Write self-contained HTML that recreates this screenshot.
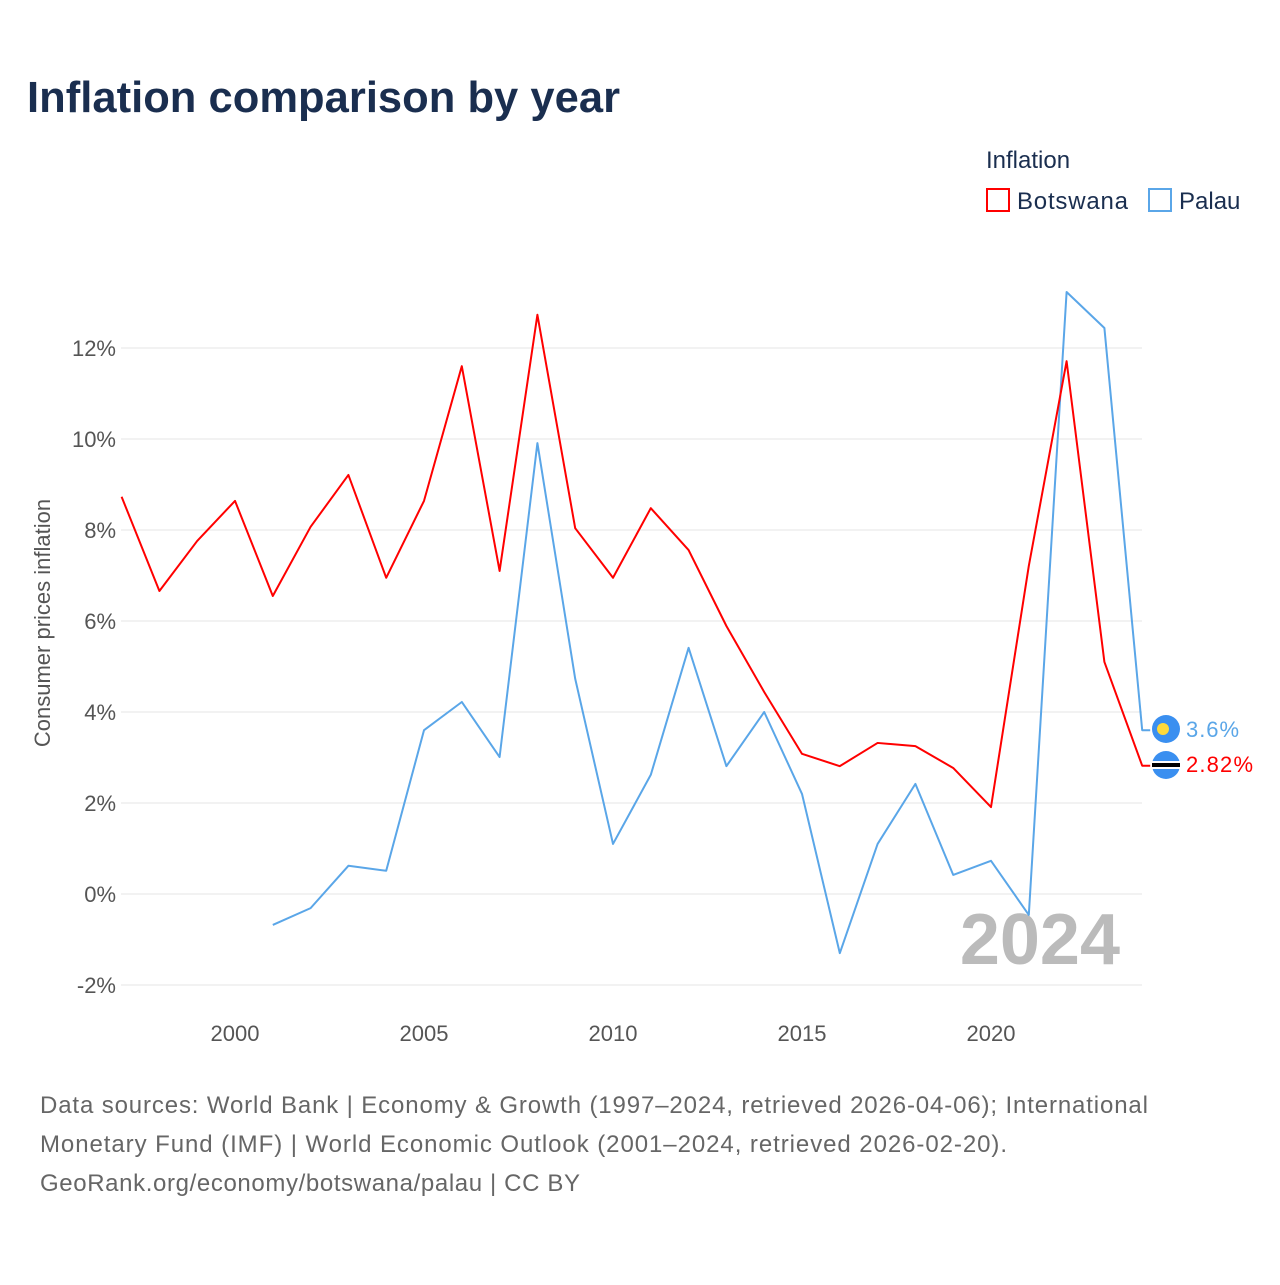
<!DOCTYPE html>
<html><head><meta charset="utf-8"><style>
body{margin:0;background:#fff;font-family:"Liberation Sans",sans-serif;}
</style></head><body>
<svg width="1280" height="1280" xmlns="http://www.w3.org/2000/svg" style="font-family:'Liberation Sans',sans-serif">
<text x="27" y="112" font-size="43.5" font-weight="bold" fill="#1a2e4f" textLength="593">Inflation comparison by year</text>
<text x="986" y="168" font-size="24" fill="#1a2e4f">Inflation</text>
<g><rect x="987" y="189" width="22" height="22" fill="none" stroke="#f00" stroke-width="2"/><text x="1017" y="209" font-size="24" fill="#1a2e4f" textLength="111">Botswana</text></g>
<g><rect x="1149" y="189" width="22" height="22" fill="none" stroke="#5aa6e8" stroke-width="2"/><text x="1179" y="209" font-size="24" fill="#1a2e4f">Palau</text></g>
<g id="grid"></g><g id="yt"></g><g id="xt"></g>
<text transform="translate(50,623) rotate(-90)" text-anchor="middle" font-size="22" fill="#555">Consumer prices inflation</text>
<text x="1120" y="964" text-anchor="end" font-size="72" font-weight="bold" fill="#bbb">2024</text>
<g id="lines"></g>
<g><circle cx="1166" cy="729" r="14" fill="#3a8ff0"/><circle cx="1163" cy="729" r="6" fill="#ffd93a"/></g>
<g><circle cx="1166" cy="765" r="14" fill="#3a8ff0"/><rect x="1152" y="761" width="28" height="8" fill="#fff"/><rect x="1152" y="763" width="28" height="4" fill="#000"/></g>
<text x="1186" y="737" font-size="22" fill="#5aa6e8" textLength="53">3.6%</text>
<text x="1186" y="772" font-size="22" fill="#f00" textLength="67">2.82%</text>
<text font-size="24" fill="#666"><tspan x="40" y="1113" textLength="1108">Data sources: World Bank | Economy &amp; Growth (1997–2024, retrieved 2026-04-06); International</tspan><tspan x="40" y="1152" textLength="967">Monetary Fund (IMF) | World Economic Outlook (2001–2024, retrieved 2026-02-20).</tspan><tspan x="40" y="1191" textLength="540">GeoRank.org/economy/botswana/palau | CC BY</tspan></text>
</svg>
<script>
const botYears=[1997,1998,1999,2000,2001,2002,2003,2004,2005,2006,2007,2008,2009,2010,2011,2012,2013,2014,2015,2016,2017,2018,2019,2020,2021,2022,2023,2024];
const botValues=[8.73,6.66,7.76,8.64,6.55,8.07,9.21,6.95,8.64,11.6,7.1,12.73,8.04,6.95,8.48,7.56,5.89,4.44,3.08,2.81,3.32,3.25,2.77,1.91,7.21,11.71,5.1,2.82];
const palYears=[2001,2002,2003,2004,2005,2006,2007,2008,2009,2010,2011,2012,2013,2014,2015,2016,2017,2018,2019,2020,2021,2022,2023,2024];
const palValues=[-0.68,-0.31,0.62,0.51,3.6,4.22,3.01,9.91,4.73,1.1,2.62,5.41,2.81,4.0,2.2,-1.3,1.1,2.42,0.42,0.73,-0.46,13.23,12.44,3.6];
const yTicks=[-2,0,2,4,6,8,10,12];
const xTicks=[2000,2005,2010,2015,2020];
const NS="http://www.w3.org/2000/svg";
const X=y=>121.6+(y-1997)*37.8;
const Y=v=>894-v*45.5;
function mk(t,a,p){const e=document.createElementNS(NS,t);for(const k in a)e.setAttribute(k,a[k]);document.getElementById(p).appendChild(e);return e;}
yTicks.forEach(v=>{
  const l=mk('line',{x1:121,x2:1142,y1:Y(v),y2:Y(v),stroke:'#e6e6e6','stroke-width':1},'grid');
  
  
  const t=mk('text',{x:116,y:Y(v)+8,'text-anchor':'end','font-size':22,fill:'#555'},'yt');
  t.textContent=v+'%';
  
  
});
xTicks.forEach(v=>{
  const t=mk('text',{x:X(v),y:1041,'text-anchor':'middle','font-size':22,fill:'#555'},'xt');
  t.textContent=v;
  
  
});
function line(ys,vs,c,name){
  let d=ys.map((y,i)=>(i?'L':'M')+X(y)+','+Y(vs[i])).join(' ');
  d+=' L'+(X(ys[ys.length-1])+8)+','+Y(vs[vs.length-1]);
  const p=mk('path',{d:d,fill:'none',stroke:c,'stroke-width':2,'stroke-linejoin':'round'},'lines');
  
  
}
line(palYears,palValues,'#5aa6e8','palau-line');
line(botYears,botValues,'#f00','botswana-line');
</script>
</body></html>
